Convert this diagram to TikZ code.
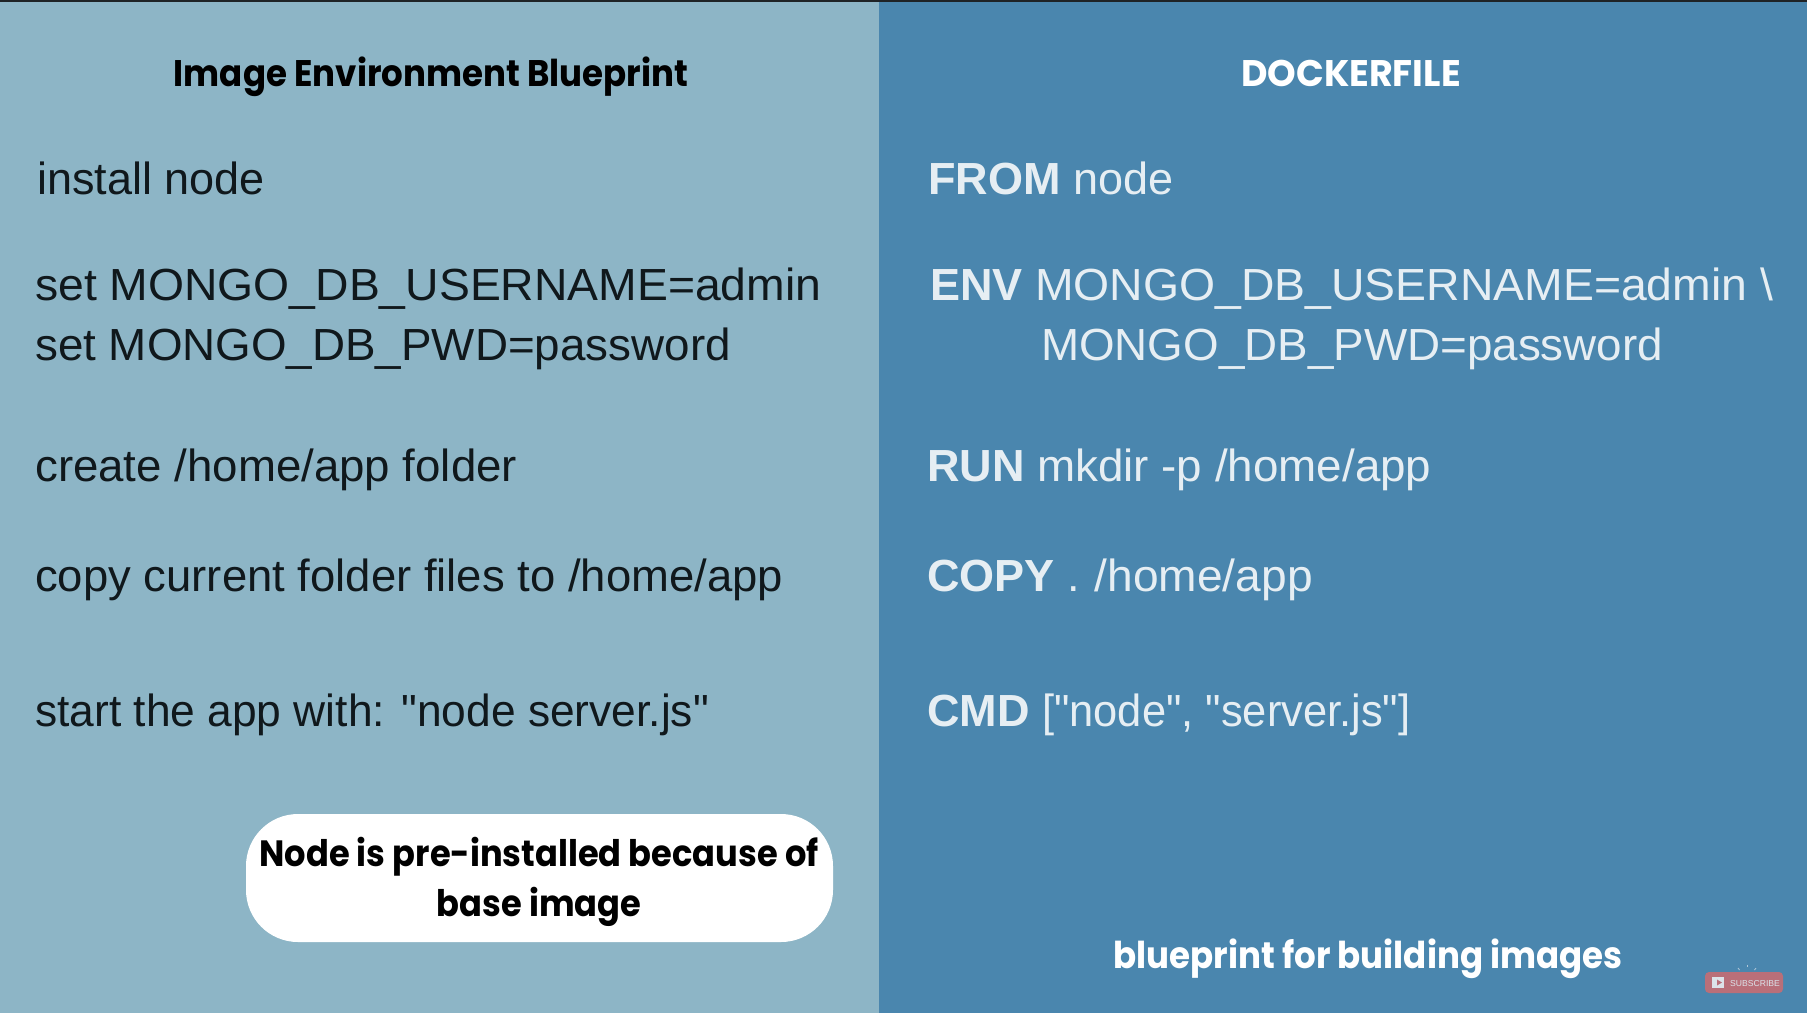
\documentclass[tikz,border=0pt]{standalone}
\usepackage{fontspec}
\setmainfont{Liberation Sans}[Ligatures=TeXOff]
\newfontfamily\headfont{Poppins}[FakeStretch=0.92]
\definecolor{leftbg}{HTML}{8DB5C6}
\definecolor{rightbg}{HTML}{4A86AE}
\definecolor{topbar}{HTML}{1F2326}
\definecolor{subbg}{HTML}{B96F79}
\definecolor{subfg}{HTML}{DCE3EA}
\definecolor{darktext}{HTML}{10181C}
\definecolor{lighttext}{HTML}{E6EEF3}
\tikzset{
  x=1pt,y=-1pt,
  bodyl/.style={anchor=base west,inner sep=0pt,text=darktext,font=\fontsize{45}{45}\selectfont},
  bodyr/.style={anchor=base west,inner sep=0pt,text=lighttext,font=\fontsize{45}{45}\selectfont},
  headl/.style={anchor=base,inner sep=0pt,text=black,font=\headfont\bfseries\fontsize{37}{37}\selectfont},
  headr/.style={anchor=base,inner sep=0pt,text=white,font=\headfont\bfseries\fontsize{37}{37}\selectfont},
  callout/.style={anchor=base,inner sep=0pt,text=black,font=\headfont\bfseries\fontsize{36.6}{37}\selectfont},
  tick/.style={draw=subfg!70!rightbg,line width=0.8pt},
}
\newcommand{\kw}[1]{{\bfseries #1}}
\newcommand{\sx}[2]{\scalebox{#1}[1]{#2}}
\begin{document}
\begin{tikzpicture}
\useasboundingbox (0,0) rectangle (1807,1013);
\fill[leftbg] (0,0) rectangle (879,1013);
\fill[rightbg] (879,0) rectangle (1807,1013);
\fill[topbar] (0,0) rectangle (1807,2);
% headers
\node[headl] (hl) at (431,86) {Image Environment Blueprint};
\node[headr] (hr) at (1351,86) {\sx{1.07}{DOCKERFILE}};
% left column
\node[bodyl] (l1) at (37,194) {install node};
\node[bodyl] (l2) at (35,300) {\sx{1.029}{set MONGO\_DB\_USERNAME=admin}};
\node[bodyl] (l3) at (35,360) {\sx{1.017}{set MONGO\_DB\_PWD=password}};
\node[bodyl] (l4) at (35,481) {\sx{1.014}{create /home/app folder}};
\node[bodyl] (l5) at (35,591) {\sx{1.01}{copy current folder files to /home/app}};
\node[bodyl] (l6) at (35,726) {\sx{0.985}{start the app with: "node server.js"}};
% right column
\node[bodyr] (r1) at (928,194) {\kw{FROM} node};
\node[bodyr] (r2) at (930,300) {\kw{ENV} \sx{1.03}{MONGO\_DB\_USERNAME=admin \textbackslash}};
\node[bodyr] (r3) at (1041,360) {\sx{1.017}{MONGO\_DB\_PWD=password}};
\node[bodyr] (r4) at (927,481) {\kw{RUN} \sx{1.017}{mkdir -p /home/app}};
\node[bodyr] (r5) at (927,591) {\kw{COPY} .\hspace{15pt}\sx{1.025}{/home/app}};
\node[bodyr] (r6) at (927,726) {\kw{CMD} \sx{0.965}{["node", "server.js"]}};
% callout
\fill[white,rounded corners=52] (246,814) rectangle (833,942);
\node[callout] (c1) at (539,866) {Node is pre-installed because of};
\node[callout] (c2) at (539,916) {base image};
\node[headr] (bp) at (1368,968) {blueprint for building images};
% subscribe
\fill[subbg,rounded corners=4] (1705,972) rectangle (1783,993);
\fill[subfg] (1712,977) rectangle (1724,988);
\fill[subbg] (1717,979.5) -- (1722,982.5) -- (1717,985.5) -- cycle;
\node[anchor=base west,inner sep=0pt,text=subfg,font=\fontsize{8.6}{9}\selectfont] (sb) at (1730,986) {SUBSCRIBE};
\draw[tick] (1738,968) -- (1739.5,970);
\draw[tick] (1747,964.5) -- (1747,967);
\draw[tick] (1756,968) -- (1754.5,970);
\end{tikzpicture}
\end{document}
